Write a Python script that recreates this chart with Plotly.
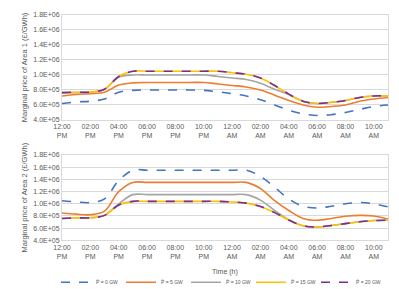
import plotly.graph_objects as go

hours = list(range(24))
tick_hours = [0, 2, 4, 6, 8, 10, 12, 14, 16, 18, 20, 22]
tick_text = ["12:00<br>PM", "02:00<br>PM", "04:00<br>PM", "06:00<br>PM", "08:00<br>PM", "10:00<br>PM",
             "12:00<br>AM", "02:00<br>AM", "04:00<br>AM", "06:00<br>AM", "08:00<br>AM", "10:00<br>AM"]
y_ticks = [4e5, 6e5, 8e5, 1.0e6, 1.2e6, 1.4e6, 1.6e6, 1.8e6]
y_tick_text = ["4.0E+05", "6.0E+05", "8.0E+05", "1.0E+06", "1.2E+06", "1.4E+06", "1.6E+06", "1.8E+06"]

names = ["P\u0304 = 0 GW", "P\u0304 = 5 GW", "P\u0304 = 10 GW", "P\u0304 = 15 GW", "P\u0304 = 20 GW"]

area1_p0 = [6.2e5, 6.4e5, 6.5e5, 6.8e5, 7.7e5, 7.95e5, 8.0e5, 8.0e5, 8.0e5, 8.0e5, 7.95e5, 7.75e5,
            7.5e5, 7.2e5, 6.7e5, 6.0e5, 5.3e5, 4.8e5, 4.6e5, 4.7e5, 5.0e5, 5.4e5, 5.8e5, 6.0e5]
area1_p5 = [7.2e5, 7.4e5, 7.5e5, 7.7e5, 8.65e5, 8.95e5, 9.0e5, 9.0e5, 9.0e5, 9.0e5, 9.0e5, 8.8e5,
            8.6e5, 8.4e5, 8.0e5, 7.3e5, 6.6e5, 6.0e5, 5.7e5, 5.8e5, 6.0e5, 6.5e5, 6.8e5, 7.0e5]
area1_p10 = [7.6e5, 7.65e5, 7.7e5, 8.1e5, 9.7e5, 1.0e6, 1.0e6, 1.0e6, 1.0e6, 1.0e6, 1.0e6, 9.8e5,
             9.6e5, 9.4e5, 8.9e5, 8.1e5, 7.4e5, 6.5e5, 6.2e5, 6.35e5, 6.6e5, 7.0e5, 7.2e5, 7.2e5]
area1_p15 = [7.65e5, 7.7e5, 7.7e5, 8.1e5, 9.8e5, 1.05e6, 1.05e6, 1.05e6, 1.05e6, 1.05e6, 1.05e6, 1.05e6,
             1.03e6, 1.01e6, 9.6e5, 8.6e5, 7.45e5, 6.5e5, 6.2e5, 6.35e5, 6.6e5, 7.0e5, 7.2e5, 7.2e5]
area1_p20 = [7.65e5, 7.7e5, 7.7e5, 8.1e5, 9.8e5, 1.05e6, 1.05e6, 1.05e6, 1.05e6, 1.05e6, 1.05e6, 1.05e6,
             1.03e6, 1.01e6, 9.6e5, 8.6e5, 7.45e5, 6.5e5, 6.2e5, 6.35e5, 6.6e5, 7.0e5, 7.2e5, 7.2e5]

area2_p0 = [1.05e6, 1.03e6, 1.02e6, 1.08e6, 1.38e6, 1.55e6, 1.55e6, 1.55e6, 1.55e6, 1.55e6, 1.55e6, 1.55e6,
            1.55e6, 1.55e6, 1.45e6, 1.27e6, 1.08e6, 9.6e5, 9.3e5, 9.6e5, 1.0e6, 1.02e6, 1.0e6, 9.5e5]
area2_p5 = [8.5e5, 8.3e5, 8.2e5, 8.8e5, 1.2e6, 1.35e6, 1.35e6, 1.35e6, 1.35e6, 1.35e6, 1.35e6, 1.35e6,
            1.35e6, 1.35e6, 1.25e6, 1.05e6, 8.9e5, 7.6e5, 7.3e5, 7.6e5, 7.95e5, 8.1e5, 8.0e5, 7.5e5]
area2_p10 = [7.6e5, 7.7e5, 7.7e5, 8.1e5, 1.0e6, 1.15e6, 1.15e6, 1.15e6, 1.15e6, 1.15e6, 1.15e6, 1.15e6,
             1.15e6, 1.15e6, 1.06e6, 8.9e5, 7.4e5, 6.4e5, 6.2e5, 6.45e5, 6.75e5, 7.05e5, 7.25e5, 7.3e5]
area2_p15 = [7.6e5, 7.7e5, 7.7e5, 8.1e5, 9.8e5, 1.04e6, 1.04e6, 1.04e6, 1.04e6, 1.04e6, 1.04e6, 1.04e6,
             1.03e6, 1.01e6, 9.55e5, 8.55e5, 7.35e5, 6.4e5, 6.2e5, 6.45e5, 6.75e5, 7.05e5, 7.25e5, 7.3e5]
area2_p20 = [7.6e5, 7.7e5, 7.7e5, 8.1e5, 9.8e5, 1.04e6, 1.04e6, 1.04e6, 1.04e6, 1.04e6, 1.04e6, 1.04e6,
             1.03e6, 1.01e6, 9.55e5, 8.55e5, 7.35e5, 6.4e5, 6.2e5, 6.45e5, 6.75e5, 7.05e5, 7.25e5, 7.3e5]

colors = ["#4472C4", "#ED7D31", "#A5A5A5", "#FFC000", "#7030A0"]
dashes = ["dash", "solid", "solid", "solid", "dash"]

fig = go.Figure()
area1 = [area1_p0, area1_p5, area1_p10, area1_p15, area1_p20]
area2 = [area2_p0, area2_p5, area2_p10, area2_p15, area2_p20]
for i in range(5):
    fig.add_trace(go.Scatter(x=hours, y=area1[i], mode="lines", name=names[i],
                             line=dict(color=colors[i], width=1.6, dash=dashes[i], shape="spline"),
                             xaxis="x", yaxis="y", showlegend=True))
for i in range(5):
    fig.add_trace(go.Scatter(x=hours, y=area2[i], mode="lines", name=names[i],
                             line=dict(color=colors[i], width=1.6, dash=dashes[i], shape="spline"),
                             xaxis="x2", yaxis="y2", showlegend=False))

font_col = "#595959"
xcommon = dict(range=[0, 23], tickmode="array", tickvals=tick_hours, ticktext=tick_text,
               showgrid=False, showline=True, linecolor="#D9D9D9", mirror=True, ticks="",
               tickfont=dict(size=7, color=font_col, family="Liberation Sans"), zeroline=False)
ycommon = dict(range=[4e5, 1.8e6], tickmode="array", tickvals=y_ticks, ticktext=y_tick_text,
               showgrid=True, gridcolor="#D9D9D9", gridwidth=1, showline=True, linecolor="#D9D9D9",
               mirror=True, ticks="", zeroline=False,
               tickfont=dict(size=7, color=font_col, family="Liberation Sans"))

total_h = 282.0
def frac(px):
    return (289 - px) / total_h

fig.update_layout(
    width=399, height=289,
    margin=dict(l=54, r=19, t=7, b=0),
    paper_bgcolor="white", plot_bgcolor="white",
    xaxis=dict(**xcommon, domain=[0, 1], anchor="y"),
    yaxis=dict(**ycommon, domain=[frac(115), 1.0], anchor="x",
               title=dict(text="Marginal price of Area 1 (£/GWh)",
                          font=dict(size=7.5, color=font_col, family="Liberation Sans"), standoff=4)),
    xaxis2=dict(**xcommon, domain=[0, 1], anchor="y2"),
    yaxis2=dict(**ycommon, domain=[frac(239), frac(151)], anchor="x2",
                title=dict(text="Marginal price of Area 2 (£/GWh)",
                           font=dict(size=7.5, color=font_col, family="Liberation Sans"), standoff=4)),
    legend=dict(orientation="h", x=0.48, xanchor="center", y=frac(282), yanchor="middle",
                font=dict(size=5, color=font_col, family="Liberation Sans"),
                entrywidth=20, tracegroupgap=0, bgcolor="rgba(0,0,0,0)"),
    annotations=[dict(text="Time (h)", x=0.5, xref="paper", y=frac(272), yref="paper",
                      showarrow=False, yanchor="middle",
                      font=dict(size=7, color=font_col, family="Liberation Sans"))],
    showlegend=True,
)

fig.write_html("out.html")
